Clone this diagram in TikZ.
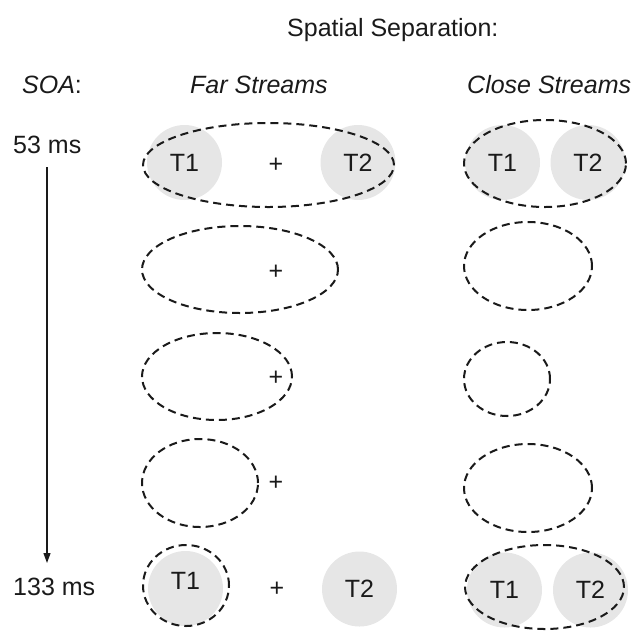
\documentclass[tikz,border=0pt]{standalone}
\usepackage{fontspec}
\setmainfont{Liberation Sans}
\usetikzlibrary{arrows.meta}
\definecolor{discgray}{HTML}{E6E6E6}
\definecolor{ink}{HTML}{1A1A1A}
\begin{document}
\begin{tikzpicture}[x=1pt,y=-1pt,
  txt/.style={inner sep=0pt, text=ink, font=\fontsize{25}{30}\selectfont},
  lbl/.style={txt, anchor=base west},
  disc/.style={circle, fill=discgray, draw=none, minimum size=75pt, inner sep=0pt},
  ring/.style={draw=ink, line width=2pt, dash pattern=on 8pt off 5pt},
  timeline/.style={draw=ink, line width=1.2pt, -{Triangle[length=10pt,width=7pt]}}
]
\useasboundingbox (0,0) rectangle (634,630);

% headings
\node[lbl] (hsep)   at (287,36) {Spatial Separation:};
\node[lbl] (hsoa)   at (22,93)  {\textit{SOA}:};
\node[lbl] (hfar)   at (190,93) {\textit{Far Streams}};
\node[lbl] (hclose) at (467,93) {\textit{Close Streams}};

% SOA axis
\node[lbl] (t53)  at (13,153) {53 ms};
\node[lbl] (t133) at (13,595) {133 ms};
\coordinate (axtop) at (47,167);
\coordinate (axbot) at (47,563);
\draw[timeline] (axtop) -- (axbot);

% target discs
\node[disc] (fT1a) at (184.5,162.5) {};
\node[disc] (fT2a) at (358,162.5) {};
\node[disc] (cT1a) at (502.5,162.5) {};
\node[disc] (cT2a) at (588,162.5) {};
\node[disc] (fT1b) at (185.5,588.5) {};
\node[disc] (fT2b) at (359.5,589) {};
\node[disc] (cT1b) at (504.5,590) {};
\node[disc] (cT2b) at (590.5,590) {};

% attention windows, far streams
\draw[ring] (268.5,165)   ellipse [x radius=125.5pt, y radius=42pt];
\draw[ring] (240,269.5)   ellipse [x radius=98pt,  y radius=43.5pt];
\draw[ring] (217,376.5)   ellipse [x radius=75pt,  y radius=43.5pt];
\draw[ring] (200,483)     ellipse [x radius=58pt,  y radius=44pt];
\draw[ring] (186,585.5)   ellipse [x radius=43pt,  y radius=40.5pt];

% attention windows, close streams
\draw[ring] (545,163.5)   ellipse [x radius=81pt,  y radius=43.5pt];
\draw[ring] (528,266)     ellipse [x radius=64pt,  y radius=44pt];
\draw[ring] (507,379)     ellipse [x radius=43pt,  y radius=37pt];
\draw[ring] (528,488)     ellipse [x radius=64pt,  y radius=44pt];
\draw[ring] (544.5,587)   ellipse [x radius=79.5pt, y radius=42pt];

% target labels
\node[txt] (lf1a) at (fT1a) {T1};
\node[txt] (lf2a) at (fT2a) {T2};
\node[txt] (lc1a) at (cT1a) {T1};
\node[txt] (lc2a) at (cT2a) {T2};
\node[txt] (lf1b) at ([yshift=8pt]fT1b.center) {T1};
\node[txt] (lf2b) at (fT2b) {T2};
\node[txt] (lc1b) at (cT1b) {T1};
\node[txt] (lc2b) at (cT2b) {T2};

% fixation crosses
\node[txt] (fix1) at (276,165) {+};
\node[txt] (fix2) at (276,272) {+};
\node[txt] (fix3) at (276,378) {+};
\node[txt] (fix4) at (276,483) {+};
\node[txt] (fix5) at (277,589) {+};
\end{tikzpicture}
\end{document}
